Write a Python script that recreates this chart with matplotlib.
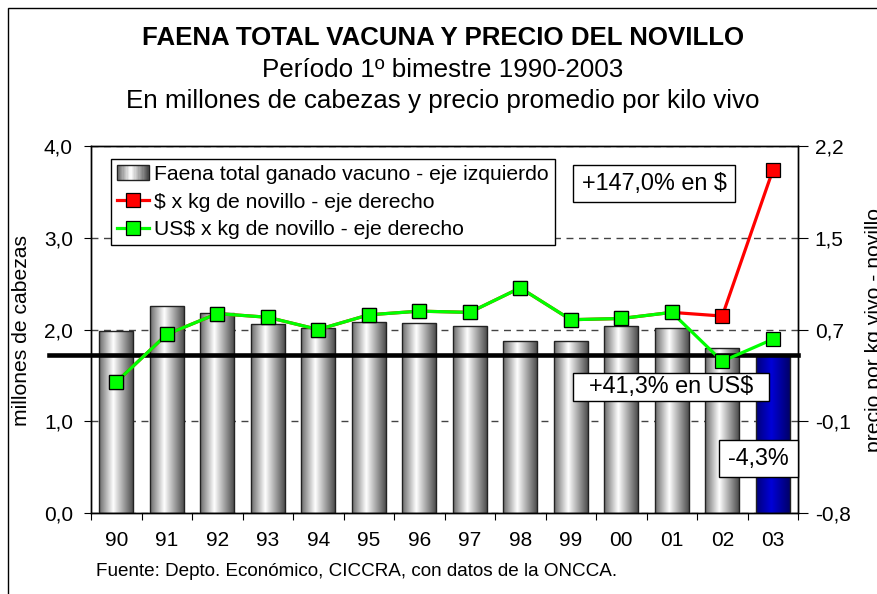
import numpy as np
import matplotlib
matplotlib.use('Agg')
import matplotlib.pyplot as plt
from matplotlib.colors import LinearSegmentedColormap
from matplotlib.patches import Rectangle
from matplotlib.legend_handler import HandlerBase
from matplotlib.lines import Line2D
from matplotlib.ticker import FuncFormatter

plt.rcParams['font.family'] = ['Liberation Sans', 'DejaVu Sans']

# datos (1er bimestre de cada año)
years = ['90', '91', '92', '93', '94', '95', '96', '97', '98', '99', '00', '01', '02', '03']
faena = [1.98, 2.26, 2.18, 2.06, 2.02, 2.08, 2.07, 2.04, 1.87, 1.87, 2.04, 2.02, 1.80, 1.72]
precio_pesos = [0.27, 0.66, 0.83, 0.80, 0.70, 0.82, 0.85, 0.84, 1.04, 0.78, 0.79, 0.84, 0.81, 2.00]
precio_usd = [0.27, 0.66, 0.83, 0.80, 0.70, 0.82, 0.85, 0.84, 1.04, 0.78, 0.79, 0.84, 0.44, 0.62]
left_ticks = [0, 1, 2, 3, 4]
right_ticks = [-0.8, -0.05, 0.7, 1.45, 2.2]
right_tick_labels = ['-0,8', '-0,1', '0,7', '1,5', '2,2']

W, H = 877, 594
fig = plt.figure(figsize=(W / 100, H / 100), dpi=100)
ax = fig.add_axes([91 / W, 1 - 513 / H, (798 - 91) / W, (513 - 146) / H])

gray_cm = LinearSegmentedColormap.from_list('g', [(0, '#6a6a6a'), (0.42, '#ffffff'), (1, '#4e4e4e')])
blue_cm = LinearSegmentedColormap.from_list('b', [(0, '#00007a'), (0.45, '#0000d8'), (1, '#000068')])
grad = np.linspace(0, 1, 128).reshape(1, -1)

x = np.arange(len(years))
bw = 0.67
bars = ax.bar(x, faena, width=bw, color='none', edgecolor='#222222', linewidth=1, zorder=3)
for i, b in enumerate(bars):
    cm = blue_cm if i == len(bars) - 1 else gray_cm
    im = ax.imshow(grad, extent=(b.get_x(), b.get_x() + bw, 0, b.get_height()),
                   aspect='auto', cmap=cm, zorder=2, interpolation='bilinear')
    im.set_clip_path(b)

ax.set_xlim(-0.5, len(years) - 0.5)
ax.set_ylim(0, 4)
ax.set_yticks(left_ticks)
ax.yaxis.set_major_formatter(FuncFormatter(lambda v, p: f'{v:.1f}'.replace('.', ',')))
ax.yaxis.grid(True, linestyle=(0, (5, 4)), color='#444444', linewidth=1)
ax.set_axisbelow(True)

ax.set_xticks(np.arange(len(years) + 1) - 0.5)
ax.set_xticklabels([])
ax.set_xticks(x, minor=True)
ax.set_xticklabels(years, minor=True)
ax.tick_params(axis='x', which='major', direction='out', length=5)
ax.tick_params(axis='x', which='minor', length=0, pad=13, labelsize=15)
ax.tick_params(axis='y', direction='out', length=5, pad=8, labelsize=15)

# linea negra al nivel de 2003
ax.axhline(faena[-1], xmin=-0.059, xmax=1, color='black', linewidth=3.3, zorder=4, clip_on=False)

ax2 = ax.twinx()
ax2.set_ylim(-0.8, 2.2)
ax2.set_yticks(right_ticks)
ax2.set_yticklabels(right_tick_labels)
ax2.tick_params(axis='y', direction='out', length=7, pad=5, labelsize=15)
ax2.plot(x, precio_pesos, color='#ff0000', linewidth=2.3, marker='s', markersize=9.5,
         markerfacecolor='#ff0000', markeredgecolor='black', markeredgewidth=0.9, zorder=3)
ax2.plot(x, precio_usd, color='#00ff00', linewidth=2.3, marker='s', markersize=9.5,
         markerfacecolor='#00ff00', markeredgecolor='black', markeredgewidth=0.9, zorder=4)
for a in (ax, ax2):
    for s in a.spines.values():
        s.set_linewidth(1)


class GradHandler(HandlerBase):
    def create_artists(self, legend, orig, xd, yd, w, h, fs, trans):
        arts = []
        n = 24
        for k in range(n):
            arts.append(Rectangle((xd + w * k / n, yd), w / n + 0.3, h,
                                  facecolor=gray_cm(k / (n - 1)), edgecolor='none', transform=trans))
        arts.append(Rectangle((xd, yd), w, h, facecolor='none', edgecolor='#222222', lw=1, transform=trans))
        return arts


bar_handle = Rectangle((0, 0), 1, 1)
h_pesos = Line2D([], [], color='#ff0000', lw=2.3, marker='s', markersize=9.5,
                 markerfacecolor='#ff0000', markeredgecolor='black', markeredgewidth=0.9)
h_usd = Line2D([], [], color='#00ff00', lw=2.3, marker='s', markersize=9.5,
               markerfacecolor='#00ff00', markeredgecolor='black', markeredgewidth=0.9)
leg = ax2.legend([bar_handle, h_pesos, h_usd],
                 ['Faena total ganado vacuno - eje izquierdo',
                  '$ x kg de novillo - eje derecho',
                  'US$ x kg de novillo - eje derecho'],
                 handler_map={Rectangle: GradHandler()},
                 loc='upper left', bbox_to_anchor=(0.028, 0.965), borderaxespad=0,
                 fontsize=15.2, frameon=True, fancybox=False, framealpha=1,
                 edgecolor='black', handlelength=1.5, handletextpad=0.25,
                 labelspacing=0.4, borderpad=0.3)
leg.get_frame().set_linewidth(1)


def box_label(x0, y0, x1, y1, text, size):
    fig.add_artist(Rectangle((x0 / W, 1 - y1 / H), (x1 - x0) / W, (y1 - y0) / H,
                             transform=fig.transFigure, facecolor='white',
                             edgecolor='black', linewidth=1, zorder=5))
    fig.text((x0 + x1) / 2 / W, 1 - (y0 + y1) / 2 / H, text, ha='center', va='center',
             fontsize=size, zorder=6)


box_label(573, 165, 735, 202, '+147,0% en $', 16.8)
box_label(573, 373, 769, 401, '+41,3% en US$', 16.8)
box_label(719, 440, 798, 477, '-4,3%', 16.8)

fig.text(0.505, 1 - 38 / H, 'FAENA TOTAL VACUNA Y PRECIO DEL NOVILLO', ha='center', va='center',
         fontsize=18.6, fontweight='bold')
fig.text(0.505, 1 - 70 / H, 'Período 1º bimestre 1990-2003', ha='center', va='center', fontsize=18.7)
fig.text(0.505, 1 - 101 / H, 'En millones de cabezas y precio promedio por kilo vivo',
         ha='center', va='center', fontsize=18.7)
fig.text(22 / W, 1 - 330 / H, 'millones de cabezas', rotation=90, ha='center', va='center', fontsize=15.2)
fig.text(875 / W, 1 - 330 / H, 'precio por kg vivo - novillo', rotation=90, ha='center', va='center',
         fontsize=15.2)
fig.text(96 / W, 1 - 572 / H, 'Fuente: Depto. Económico, CICCRA, con datos de la ONCCA.',
         ha='left', va='center', fontsize=13.6)

# marco exterior (abierto a derecha y abajo)
fig.add_artist(Rectangle((8 / W, -0.1), 1.2, 1.1 - 8 / H, transform=fig.transFigure,
                         fill=False, edgecolor='black', linewidth=1, zorder=0))

fig.savefig('out.png', dpi=100)
